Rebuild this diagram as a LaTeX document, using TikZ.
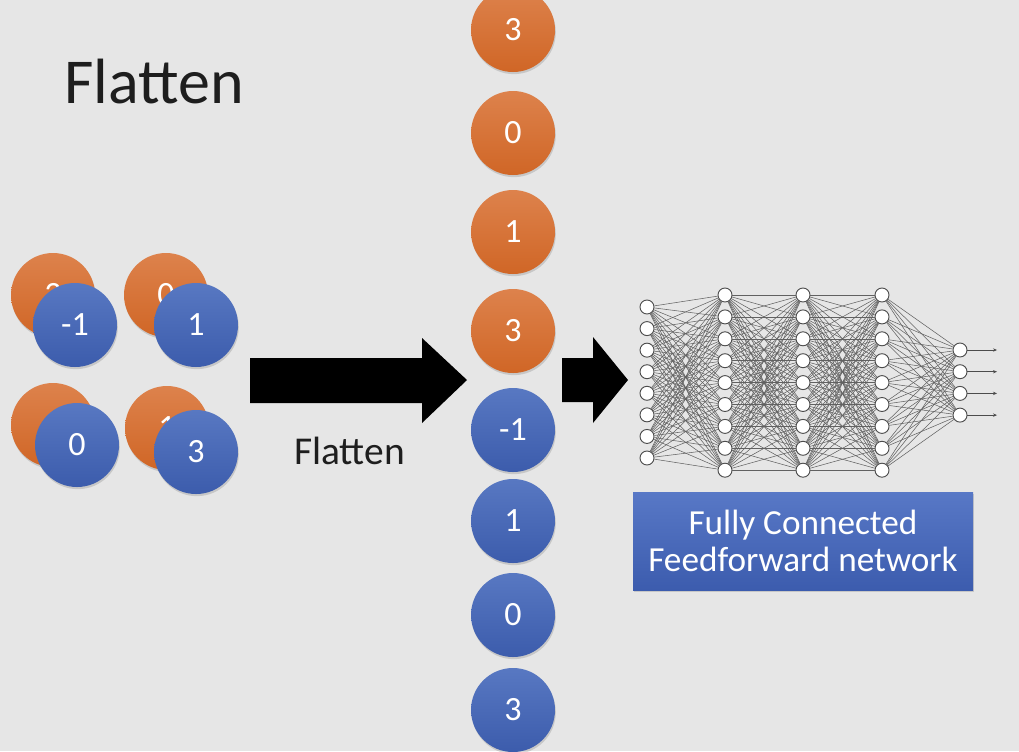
\documentclass[tikz,border=0pt]{standalone}
\usepackage{fontspec}
\setmainfont{Carlito}
\usetikzlibrary{shadows,arrows.meta}
\definecolor{bgc}{RGB}{230,230,230}
\definecolor{orT}{RGB}{221,130,76}
\definecolor{orB}{RGB}{208,102,38}
\definecolor{blT}{RGB}{88,120,194}
\definecolor{blB}{RGB}{60,92,172}
\definecolor{bxT}{RGB}{88,120,198}
\definecolor{bxB}{RGB}{60,92,174}
\definecolor{ttl}{RGB}{30,30,30}
\tikzset{
  orc/.style={circle, minimum size=63pt, inner sep=0pt, draw=none,
    top color=orT, bottom color=orB, text=white,
    font=\fontsize{25.5}{25.5}\selectfont,
    drop shadow={opacity=0.3, shadow xshift=0.6pt, shadow yshift=-1.6pt}},
  blc/.style={orc, top color=blT, bottom color=blB},
  blockarrow/.style={fill=black, draw=none},
  nn/.style={circle, draw=black!70, line width=0.7pt, fill=white, minimum size=10.5pt, inner sep=0pt},
  edge/.style={draw=black!62, line width=0.4pt},
  outarrow/.style={draw=black!70, line width=0.5pt, -{Stealth[length=3pt,width=2.5pt]}},
  fcbox/.style={rectangle, minimum width=255pt, minimum height=73.5pt, inner sep=0pt,
    top color=bxT, bottom color=bxB, text=white, align=center,
    font=\fontsize{26.4}{27.75}\selectfont,
    drop shadow={opacity=0.3, shadow xshift=0.8pt, shadow yshift=-1.6pt}},
  plain/.style={inner sep=0pt, anchor=base west}
}
\begin{document}
\begin{tikzpicture}[x=0.75pt, y=-0.75pt]
\fill[bgc] (0,0) rectangle (1019,751);
\useasboundingbox (0,0) rectangle (1019,751);

% title
\node[plain, text=ttl, font=\fontsize{48}{48}\selectfont] (title) at (64,103) {Flatten};

% left stacked pairs
\node[orc] (o1) at (53,295) {3};
\node[orc] (o2) at (166,295) {0};
\node[orc] (o3) at (53,425) {3};
\node[orc] (o4) at (167,428) {1};
\node[blc] (b1) at (75,325) {-1};
\node[blc] (b2) at (196,325) {1};
\node[blc] (b3) at (77,445) {0};
\node[blc] (b4) at (196,452) {3};

% big arrow
\fill[blockarrow] (250,358) -- (422,358) -- (422,338) -- (467,380) -- (422,423) -- (422,403) -- (250,403) -- cycle;
\node[plain, text=ttl, font=\fontsize{29.6}{29.6}\selectfont] (flab) at (294,464) {Flatten};

% flattened column
\node[orc] (c1) at (513,30) {3};
\node[orc] (c2) at (513,133) {0};
\node[orc] (c3) at (513,232) {1};
\node[orc] (c4) at (513,331) {3};
\node[blc] (c5) at (513,430) {-1};
\node[blc] (c6) at (513,521) {1};
\node[blc] (c7) at (513,615) {0};
\node[blc] (c8) at (513,710) {3};

% small arrow
\fill[blockarrow] (562,358) -- (593,358) -- (593,337) -- (628,380) -- (593,423) -- (593,402) -- (562,402) -- cycle;

% network
\foreach \i in {0,...,7} \node[nn] (a\i) at (647,{307+21.57*\i}) {};
\foreach \i in {0,...,8} \node[nn] (b\i) at (725,{295+21.9*\i}) {};
\foreach \i in {0,...,8} \node[nn] (c\i) at (803,{295+21.9*\i}) {};
\foreach \i in {0,...,8} \node[nn] (d\i) at (882,{295+21.9*\i}) {};
\foreach \i in {0,...,3} \node[nn] (e\i) at (960,{350+21.7*\i}) {};
\foreach \i in {0,...,3} \coordinate (oe\i) at (997,{350+21.7*\i});

\foreach \i in {0,...,7} \foreach \j in {0,...,8} \draw[edge] (a\i) -- (b\j);
\foreach \i in {0,...,8} \foreach \j in {0,...,8} \draw[edge] (b\i) -- (c\j);
\foreach \i in {0,...,8} \foreach \j in {0,...,8} \draw[edge] (c\i) -- (d\j);
\foreach \i in {0,...,8} \foreach \j in {0,...,3} \draw[edge] (d\i) -- (e\j);
\foreach \i in {0,...,3} \draw[outarrow] (e\i) -- (oe\i);

% box
\node[fcbox] (fc) at (803,541) {Fully Connected\\Feedforward network};
\end{tikzpicture}
\end{document}
